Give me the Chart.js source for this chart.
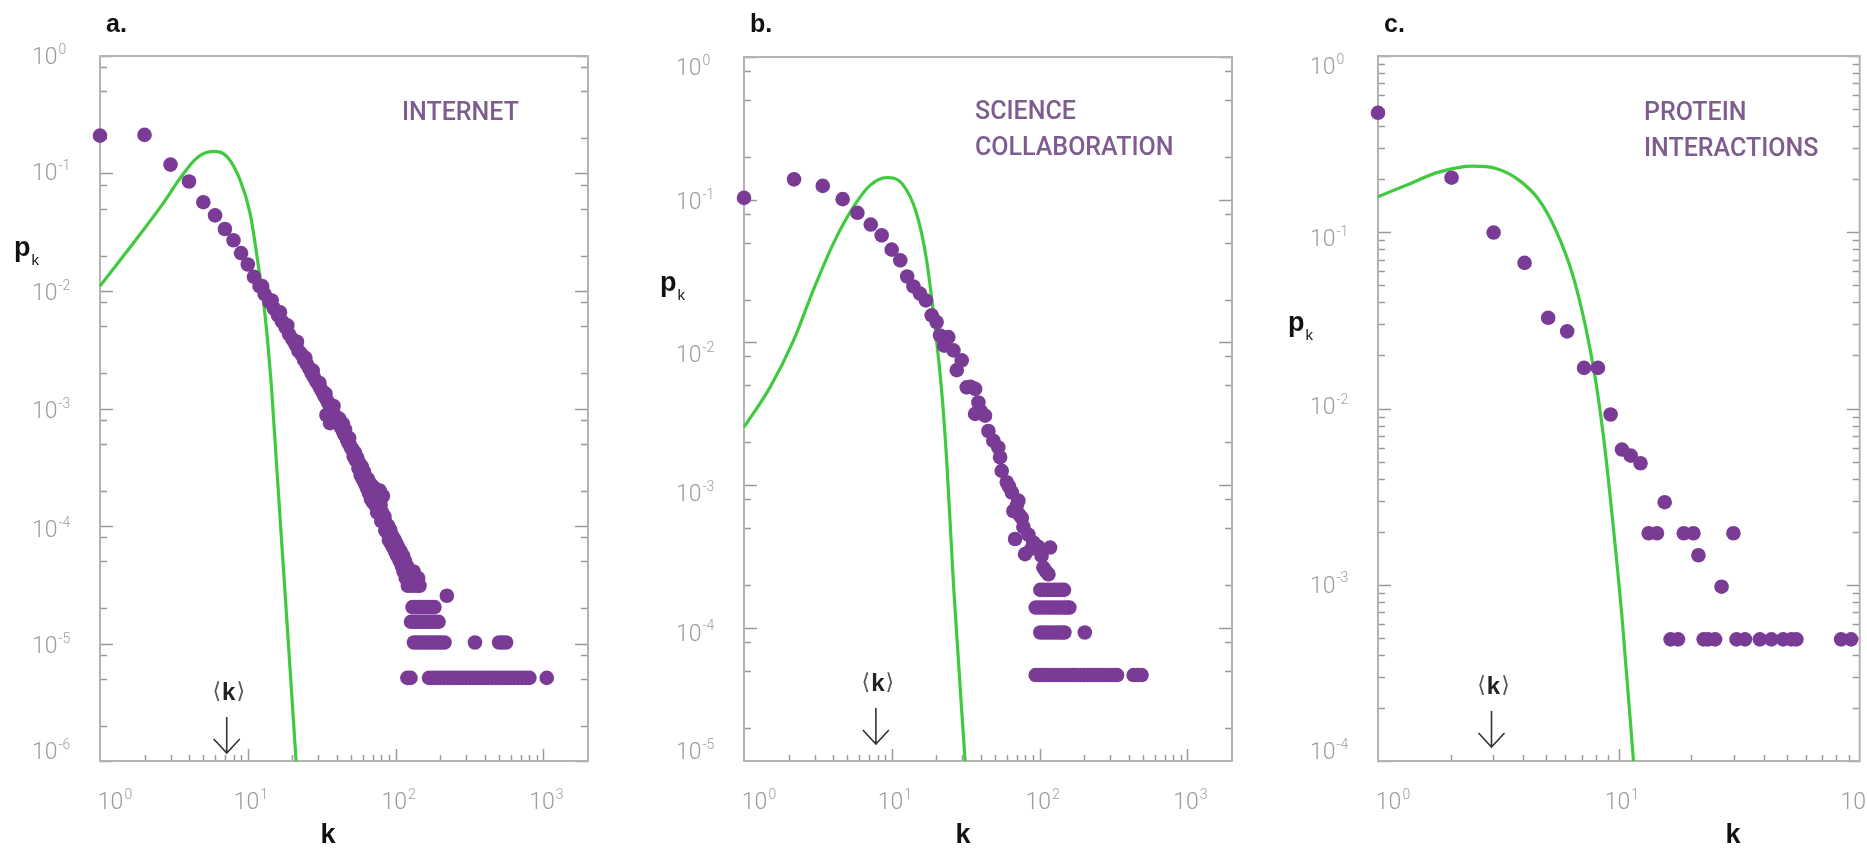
<!DOCTYPE html>
<html><head><meta charset="utf-8">
<script src="https://cdn.jsdelivr.net/npm/chart.js@4.4.1/dist/chart.umd.min.js"></script>
<style>
html,body{margin:0;padding:0;background:#fff;}
#wrap{position:relative;width:1867px;height:848px;overflow:hidden;background:#fff;}
canvas{position:absolute;top:0;}
</style></head>
<body><div id="wrap">
<canvas id="cA" width="640" height="848" style="left:0px"></canvas>
<canvas id="cB" width="620" height="848" style="left:640px"></canvas>
<canvas id="cC" width="607" height="848" style="left:1260px"></canvas>
</div>
<script>
// ---------------- DATA ----------------
// a. Internet: degree k, probability p_k
const internetPoints = [
 [1,0.21],[2,0.213],[3,0.119],[4,0.0855],[5,0.057],[6,0.044],[7,0.0337],[8,0.027],[9,0.021],[10,0.0168],
 [11,0.0132],[12,0.0110],[13,0.0094],[14,0.0081],[15,0.0071],[16,0.0062],[17,0.0055],[18,0.0049],[19,0.0043],[20,0.0039],
 [21,0.0035],[22,0.0031],[23,0.0029],[24,0.0026],[25,0.0024],[26,0.0022],[27,0.0020],[28,0.00185],[29,0.0017],[30,0.0016],
 [31,0.00148],[32,0.00138],[33,0.00128],[34,0.0012],[35,0.00112],[36,0.00104],[37,0.00097],[38,0.00091],[39,0.00086],[40,0.0008],
 [41,0.00076],[42,0.00072],[43,0.00068],[44,0.00064],[45,0.0006],[46,0.00058],[47,0.00054],[48,0.00051],[49,0.00049],[50,0.00046],
 [34,0.00088],[36,0.00075],[38,0.00105],[44,0.00074],
 [12.5,0.0110],[14.5,0.0083],[16.5,0.0066],[18.5,0.0051],[21.5,0.0037],[24.5,0.0027],[27.5,0.0021],[30.5,0.00165],
 [33.5,0.00134],[37.5,0.00104],[41.5,0.00082],[45.5,0.00066],[48.5,0.00056],
 [51,0.00045],[52,0.00039],[53,0.00042],[54,0.00036],[55,0.00038],[56,0.00031],[57,0.00034],[58,0.00027],[59,0.00032],[60,0.00025],
 [61,0.00029],[62,0.00023],[63,0.00026],[64,0.00021],[65,0.00025],[66,0.00019],[67,0.00023],[68,0.00017],[69,0.00022],[70,0.00016],
 [71,0.00019],[72,0.00021],[73,0.00015],[74,0.00018],[75,0.00013],[76,0.00016],[77,0.00014],[78,0.00020],[79,0.00015],[80,0.00011],
 [81,0.00013],[82,0.00018],[84,0.00012],[85,0.000092],[86,0.000105],[88,0.000087],[89,0.0001],[90,0.000076],[92,0.000092],[93,0.000071],
 [95,0.000082],[96,0.000066],[98,0.000077],[99,0.000061],[101,0.000071],[102,0.000056],[104,0.000066],[106,0.000051],[108,0.000061],[110,0.000046],
 [112,0.000056],[113,0.000041],[115,0.000051],[117,0.000036],[119,0.000046],[121,0.000031],[123,0.000041],[126,0.000036],[129,0.000031],[132,0.000041],
 [135,0.000036],[138,0.000031],[142,0.000036],[145,0.000031]
];
const internetRows = [
 {p:2.55e-5, k:[222]},
 {p:2.04e-5, k:[130,137,144,152,160,168,176,183]},
 {p:1.53e-5, k:[127,134,141,149,157,166,175,185,195]},
 {p:1.02e-5, k:[133,140,148,156,164,173,183,193,203,214,344,501,528,558]},
 {p:5.1e-6,  k:[120,126,168,178,189,200,212,225,238,252,267,283,300,318,337,357,378,400,424,449,476,504,534,566,600,636,674,714,757,803,1052]}
];
const internetPoisson = [[1,0.011],[2,0.034],[2.68,0.056],[3.48,0.091],[4.5,0.135],[5.84,0.154],[7.2,0.14],[8.85,0.0885],
 [10.35,0.046],[11.8,0.0162],[13.1,0.0061],[14.5,0.00143],[15.7,0.00031],[17.4,0.000044],[19.3,6.1e-6],[21.2,1.0e-6]];
const internetMeanK = 7.2;

// b. Science collaboration
const sciencePoints = [
 [1,0.103],[2.18,0.139],[3.41,0.125],[4.65,0.101],[5.85,0.081],[7.2,0.067],[8.54,0.0563],[9.98,0.0447],[11.4,0.0376],[12.7,0.029],
 [14,0.0247],[15.5,0.022],[17,0.0197],[18.6,0.0155],[20.1,0.0139],[21.2,0.0112],[22.6,0.0095],[24.1,0.0109],[26.1,0.0088],[27.5,0.0064],
 [29.7,0.0075],[32.1,0.00485],[34,0.0049],[36.6,0.00473],[36.6,0.00316],[38.5,0.0038],[40,0.0033],[42.7,0.00307],[45,0.0024],[48.6,0.00205],
 [52.5,0.00184],[54,0.00157],[55.4,0.00126],[59.9,0.00105],[62,0.00098],[64.8,0.00089],[66.4,0.00066],[70,0.00072],[71.8,0.00078],[73,0.00062],
 [75.7,0.00059],[77.6,0.00051],[68.2,0.00042],[84,0.00045],[79.6,0.000329],[88,0.00036],[90.6,0.000397],[98,0.00037],[103,0.00032],[106,0.000265],
 [110,0.00025],[114.6,0.000238],[117.6,0.000366]
];
const scienceRows = [
 {p:1.85e-4, k:[101,107,113,119,126,133,140,146]},
 {p:1.39e-4, k:[94,99,105,111,117,124,131,138,146,153,159]},
 {p:9.3e-5,  k:[101,107,113,120,127,134,141,147,202]},
 {p:4.68e-5, k:[94,100,106,112,119,126,134,142,150,159,168,178,189,200,212,225,238,252,267,283,300,317,334,432,460,489]}
];
const sciencePoisson = [[1,0.00255],[1.5,0.00485],[2.16,0.0103],[2.94,0.0232],[4.02,0.0493],[5.5,0.089],[7.12,0.126],[9.23,0.143],
 [11.7,0.13],[14.7,0.08],[17.2,0.0376],[19.6,0.0128],[21.8,0.0044],[23.5,0.00149],[26.2,0.000192],[31.3,1.17e-5]];
const scienceMeanK = 7.8;

// c. Protein interactions
const proteinPoints = [
 [1,0.476],[2.02,0.204],[3.02,0.0996],[4.06,0.067],[5.09,0.0327],[6.1,0.0274],[7.17,0.017],[8.19,0.017],[9.24,0.00925],[10.3,0.00585],
 [11.2,0.0054],[12.3,0.00489],[15.5,0.00294],[13.3,0.00196],[14.4,0.00196],[18.6,0.00196],[20.4,0.00196],[29.9,0.00196],[21.4,0.00147],[26.7,0.000975],
 [16.4,0.00049],[17.6,0.00049],[22.5,0.00049],[23.5,0.00049],[25.1,0.00049],[30.8,0.00049],[33.4,0.00049],[38.5,0.00049],[43,0.00049],[48.1,0.00049],
 [52,0.00049],[54.6,0.00049],[83.7,0.00049],[92.1,0.00049]
];
const proteinRows = [];
const proteinPoisson = [[1,0.159],[1.31,0.185],[1.8,0.22],[2.48,0.237],[3.09,0.23],[3.86,0.197],[4.67,0.152],[5.47,0.103],
 [6.41,0.0582],[7.28,0.029],[8.01,0.0144],[8.67,0.0066],[9.24,0.003],[10.3,0.00066],[11.5,0.0001]];
const proteinMeanK = 2.96;

// tick label exponents
const xExpsAB = [0,1,2,3];
const xExpsC = [0,1,2];
const yExpsA = [0,-1,-2,-3,-4,-5,-6];
const yExpsB = [0,-1,-2,-3,-4,-5];
const yExpsC = [0,-1,-2,-3,-4];

// ---------------- STYLE ----------------
const DOT = '#7a3b96';
const GREEN = '#3fca3f';
const NOTE = '#7e5c8f';
const FRAME = '#b3b3b3';
const TICK = '#9a9a9a';
const TICKLBL = '#9c9c9c';

function drawPow(ctx, e, x, y, align) {
  ctx.font = '300 23px Roboto';
  const wb = ctx.measureText('10').width;
  ctx.font = '300 14px Roboto';
  const sup = String(e);
  const ws = ctx.measureText(sup).width;
  const x0 = align === 'center' ? x - (wb + ws + 1) / 2 : x;
  ctx.textAlign = 'left';
  ctx.textBaseline = 'middle';
  ctx.font = '300 23px Roboto';
  ctx.fillText('10', x0, y);
  ctx.font = '300 14px Roboto';
  ctx.fillText(sup, x0 + wb + 1, y - 8);
}

function makePlugin(P) {
  return {
    id: 'deco',
    beforeDatasetsDraw(chart) {
      const ctx = chart.ctx, a = chart.chartArea, xs = chart.scales.x, ys = chart.scales.y;
      ctx.save();
      ctx.strokeStyle = TICK; ctx.lineWidth = 1.5;
      const ylo = Math.floor(Math.log10(ys.min)), yhi = Math.ceil(Math.log10(ys.max));
      for (let e = ylo; e <= yhi; e++) {
        for (const m of [1, ...P.yMinor]) {
          const v = m * Math.pow(10, e);
          if (v < ys.min * 0.999 || v > ys.max * 1.001) continue;
          const py = Math.round(ys.getPixelForValue(v)) + 0.5;
          const len = m === 1 ? 13 : 7;
          ctx.beginPath();
          ctx.moveTo(a.left, py); ctx.lineTo(a.left + len, py);
          ctx.moveTo(a.right, py); ctx.lineTo(a.right - len, py);
          ctx.stroke();
        }
      }
      const xhi = Math.ceil(Math.log10(xs.max));
      for (let e = 0; e <= xhi; e++) {
        for (let m = 1; m <= 9; m++) {
          const v = m * Math.pow(10, e);
          if (v <= xs.min * 1.001 || v >= xs.max * 0.999) continue;
          const px = Math.round(xs.getPixelForValue(v)) + 0.5;
          const len = m === 1 ? 12 : 6;
          ctx.beginPath(); ctx.moveTo(px, a.bottom); ctx.lineTo(px, a.bottom - len); ctx.stroke();
        }
      }
      ctx.strokeStyle = FRAME; ctx.lineWidth = 2;
      ctx.strokeRect(a.left, a.top, a.right - a.left, a.bottom - a.top);
      ctx.restore();
    },
    afterDraw(chart) {
      const ctx = chart.ctx, a = chart.chartArea, xs = chart.scales.x, ys = chart.scales.y;
      const off = P.offset;
      ctx.save();
      // tick labels
      ctx.fillStyle = TICKLBL;
      P.yExps.forEach((e, i) => {
        let v = Math.pow(10, e);
        v = Math.min(Math.max(v, ys.min), ys.max);
        const py = ys.getPixelForValue(v);
        const ty = Math.min(py + P.yLabelDy[i], a.bottom - 8);
        drawPow(ctx, e, a.left - 68, ty, 'left');
      });
      P.xExps.forEach((e, i) => {
        const px = xs.getPixelForValue(Math.pow(10, e));
        drawPow(ctx, e, px + P.xLabelDx[i], a.bottom + 42, 'center');
      });
      // panel letter
      ctx.fillStyle = '#111';
      ctx.font = 'bold 25px "Liberation Sans"';
      ctx.textAlign = 'left'; ctx.textBaseline = 'middle';
      ctx.fillText(P.letter, a.left + 6, 25);
      // network name
      ctx.fillStyle = NOTE;
      ctx.font = '500 25px Roboto';
      P.title.forEach((t, i) => ctx.fillText(t, P.titleX - off, P.titleY + i * 36));
      // p_k
      ctx.fillStyle = '#111';
      ctx.textBaseline = 'alphabetic';
      ctx.font = 'bold 27px "Liberation Sans"';
      ctx.fillText('p', P.pkX - off, P.pkY);
      const wp = ctx.measureText('p').width;
      ctx.font = '15px "Liberation Sans"';
      ctx.fillText('k', P.pkX - off + wp + 1, P.pkY + 9);
      // axis title k
      ctx.font = 'bold 27px "Liberation Sans"';
      ctx.textAlign = 'center';
      ctx.fillText('k', P.kTitleX - off, 843);
      // <k> marker
      const ax = xs.getPixelForValue(P.meanK);
      const my = P.meanY;
      ctx.font = '22px "DejaVu Sans"';
      const wl = ctx.measureText('\u27E8').width;
      ctx.font = 'bold 24px "Liberation Sans"';
      const wk = ctx.measureText('k').width;
      const tot = wl * 2 + wk + 2;
      const tx = ax + 2 - tot / 2;
      ctx.textAlign = 'left'; ctx.textBaseline = 'middle';
      ctx.fillStyle = '#555';
      ctx.font = '22px "DejaVu Sans"';
      ctx.fillText('\u27E8', tx, my);
      ctx.fillStyle = '#222';
      ctx.font = 'bold 24px "Liberation Sans"';
      ctx.fillText('k', tx + wl + 1, my + 1);
      ctx.fillStyle = '#555';
      ctx.font = '22px "DejaVu Sans"';
      ctx.fillText('\u27E9', tx + wl + wk + 2, my);
      ctx.strokeStyle = '#333'; ctx.lineWidth = 1.6;
      ctx.beginPath();
      ctx.moveTo(ax, my + 25); ctx.lineTo(ax, my + 61);
      ctx.moveTo(ax - 13, my + 47); ctx.lineTo(ax, my + 61); ctx.lineTo(ax + 13, my + 47);
      ctx.stroke();
      ctx.restore();
    }
  };
}

function buildChart(P) {
  const pts = P.points.map(([k, p]) => ({x: k, y: p}))
    .concat(P.rows.flatMap(r => r.k.map(k => ({x: k, y: r.p}))));
  const curve = P.curve.map(([k, p]) => ({x: k, y: p}));
  const cv = document.getElementById(P.canvas);
  return new Chart(cv, {
    type: 'scatter',
    data: {
      datasets: [
        {data: pts, order: 0, clip: false, pointRadius: 7.3, pointHoverRadius: 7.3,
         pointBackgroundColor: DOT, pointBorderColor: DOT, pointBorderWidth: 0, backgroundColor: DOT},
        {type: 'line', data: curve, order: 1, borderColor: GREEN, borderWidth: 3.2, pointRadius: 0,
         fill: false, cubicInterpolationMode: 'monotone', clip: 4}
      ]
    },
    options: {
      responsive: false, maintainAspectRatio: false, animation: false, devicePixelRatio: 1,
      events: [],
      layout: {padding: P.padding},
      plugins: {legend: {display: false}, tooltip: {enabled: false}, title: {display: false}},
      scales: {
        x: {type: 'logarithmic', min: 1, max: P.xMax, display: false},
        y: {type: 'logarithmic', min: P.yMin, max: 1, display: false}
      }
    },
    plugins: [makePlugin(P)]
  });
}

const panels = [
  {canvas: 'cA', offset: 0, letter: 'a.', title: ['INTERNET'], titleX: 402, titleY: 114,
   points: internetPoints, rows: internetRows, curve: internetPoisson, meanK: internetMeanK, meanY: 692,
   xMax: 2000, yMin: 1e-6, yMinor: [2, 5, 8], xExps: xExpsAB, yExps: yExpsA,
   yLabelDy: [2, 1, 3, 4, 5, 4, 0], xLabelDx: [15, 3, 3, 3],
   pkX: 14, pkY: 256, kTitleX: 328,
   padding: {left: 100, top: 56, right: 52, bottom: 87}},
  {canvas: 'cB', offset: 640, letter: 'b.', title: ['SCIENCE', 'COLLABORATION'], titleX: 975, titleY: 113,
   points: sciencePoints, rows: scienceRows, curve: sciencePoisson, meanK: scienceMeanK, meanY: 683,
   xMax: 2000, yMin: 1.17e-5, yMinor: [2, 5, 8], xExps: xExpsAB, yExps: yExpsB,
   yLabelDy: [12, 4, 14, 10, 7, 0], xLabelDx: [15, 3, 3, 3],
   pkX: 660, pkY: 291, kTitleX: 963,
   padding: {left: 104, top: 57, right: 28, bottom: 87}},
  {canvas: 'cC', offset: 1260, letter: 'c.', title: ['PROTEIN', 'INTERACTIONS'], titleX: 1644, titleY: 114,
   points: proteinPoints, rows: proteinRows, curve: proteinPoisson, meanK: proteinMeanK, meanY: 686,
   xMax: 100, yMin: 1e-4, yMinor: [2, 3, 4, 5, 6, 7, 8, 9], xExps: xExpsC, yExps: yExpsC,
   yLabelDy: [12, 8, 0, 2, 0], xLabelDx: [15, 3, -2],
   pkX: 1288, pkY: 331, kTitleX: 1733,
   padding: {left: 118, top: 56, right: 5, bottom: 87}}
];
panels.forEach(buildChart);
</script>
</body></html>
